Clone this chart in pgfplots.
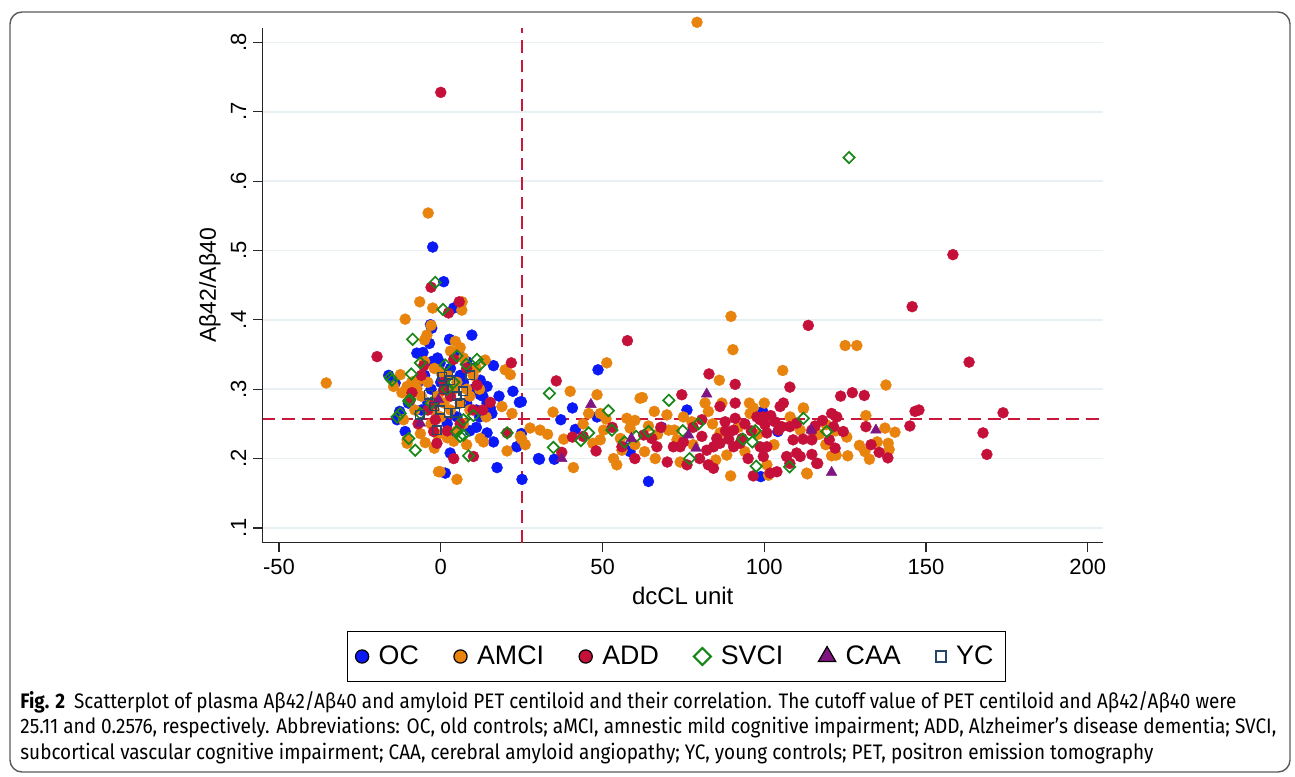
\documentclass[border=0pt]{standalone}
\usepackage{pgfplots}
\pgfplotsset{compat=1.18}
\usepackage{fontspec}
\usepackage{graphicx}
\setmainfont{Liberation Sans}
\newfontfamily\capfont{Fira Sans}
\definecolor{cOC}{RGB}{10,25,245}
\definecolor{cAMCI}{RGB}{232,131,14}
\definecolor{cADD}{RGB}{197,16,58}
\definecolor{cSVCI}{RGB}{24,135,24}
\definecolor{cCAA}{RGB}{128,20,128}
\definecolor{cYC}{RGB}{40,70,105}
\definecolor{cut}{RGB}{200,25,60}
\definecolor{gridc}{RGB}{232,240,243}
\definecolor{frame}{RGB}{90,90,90}
\begin{document}
\begin{tikzpicture}[x=0.5pt,y=0.5pt]
\useasboundingbox (0,0) rectangle (1295,776);
\draw[rounded corners=6pt, draw=frame, line width=0.7pt] (10,4) rectangle (1290,764);
\begin{axis}[
  at={(131.35pt,116.65pt)}, anchor=south west,
  scale only axis, width=420pt, height=257.35pt,
  xmin=-55.04, xmax=204.6, ymin=0.0787, ymax=0.8208,
  clip=false,
  axis x line*=bottom, axis y line*=left,
  axis line style={line width=0.6pt, black!85},
  tick align=outside, major tick length=4.7pt,
  tick style={line width=0.6pt, black!85},
  xtick={-50,0,50,100,150,200}, xticklabels={-50,0,50,100,150,200},
  ytick={0.1,0.2,0.3,0.4,0.5,0.6,0.7,0.8}, yticklabels={.1,.2,.3,.4,.5,.6,.7,.8},
  xticklabel style={font=\fontsize{11}{13}\selectfont},
  yticklabel style={rotate=90, anchor=south, font=\fontsize{11}{13}\selectfont},
  ymajorgrids, grid style={line width=0.75pt, gridc},
  xlabel={dcCL unit}, ylabel={Aβ42/Aβ40},
  xlabel style={font=\fontsize{12}{14}\selectfont, at={(axis description cs:0.5,-0.1036)}, anchor=center},
  ylabel style={font=\fontsize{11.5}{14}\selectfont, at={(axis description cs:-0.0627,0.5)}, anchor=center},
  legend style={at={(0.4926,-0.2211)}, anchor=center, draw=black, line width=0.6pt,
    font=\fontsize{13.4}{15}\selectfont, legend columns=6, inner ysep=5pt, inner xsep=4pt,
    /tikz/every odd column/.append style={column sep=3pt},
    /tikz/every even column/.append style={column sep=15.5pt}},
  legend image code/.code={\draw[#1] plot coordinates {(0pt,0pt)};},
  circ/.style={only marks, mark=*, mark size=2.75pt, line width=0.2pt},
]
% cutoff lines
\addplot[cut, line width=1pt, dash pattern=on 6.3pt off 3.5pt, forget plot] coordinates {(-55.04,0.2576) (204.6,0.2576)};
\addplot[cut, line width=1pt, dash pattern=on 6.3pt off 3.5pt, forget plot] coordinates {(25.11,0.0787) (25.11,0.8208)};
% OC
\addplot[circ, forget plot, color=cOC, mark options={solid, draw=cOC, fill=cOC}] coordinates {
(-2.5,0.505) (0.9,0.455) (4.0,0.417) (-3.2,0.393) (-2.8,0.388) (9.6,0.378) (-3.5,0.366) (2.7,0.372)
(-7.4,0.352) (-5.5,0.353) (5.5,0.352) (-2.7,0.340) (-0.2,0.338) (16.3,0.334) (-16.1,0.320) (-14.1,0.309)
(-13.5,0.256) (12.2,0.313) (14.3,0.304) (12.2,0.292) (14.3,0.280) (15.3,0.273) (15.8,0.265) (22.3,0.297)
(24.3,0.281) (-11.0,0.239) (2.9,0.208) (17.4,0.187) (25.1,0.170) (30.2,0.200) (1.4,0.179) (14.3,0.237)
(16.3,0.224) (23.5,0.217) (24.9,0.282) (24.9,0.236) (48.6,0.328) (40.7,0.273) (37.1,0.256) (41.6,0.242)
(30.5,0.199) (35.1,0.199) (64.2,0.167) (48.3,0.260) (56.5,0.217) (58.5,0.210) (68.3,0.245) (76.1,0.270)
(99.5,0.268) (98.9,0.174) (104.2,0.239) (-8,0.30) (-5,0.32) (3,0.33) (7,0.31) (10,0.30) (8,0.28) (11,0.27)
(-1,0.345) (6,0.32) (-10,0.28) (-3,0.30) (5,0.26) (9,0.24) (12,0.26) (-6,0.27) (2,0.25) (-4,0.28) (0,0.31)
(18,0.29) (-7,0.31) (10,0.33) (13,0.29) (11,0.245) (4,0.235) (-12.7,0.268) (8,0.34)
};
% AMCI
\addplot[circ, forget plot, color=cAMCI, mark options={solid, draw=cAMCI, fill=cAMCI}] coordinates {
(-35.4,0.309) (-3.9,0.554) (-6.5,0.426) (-2.5,0.417) (6.5,0.414) (-11.0,0.401) (-3,0.392) (-4.3,0.378)
(-5.0,0.371) (4.5,0.369) (13.7,0.342) (19.9,0.328) (21.5,0.321) (-12.5,0.321) (-10.4,0.304) (-8.4,0.311)
(-7.4,0.301) (18.9,0.275) (22.0,0.265) (-11.5,0.256) (-10.4,0.227) (-4.8,0.223) (-6.3,0.236) (-0.2,0.181)
(5.0,0.170) (12.2,0.229) (13.2,0.224) (20.5,0.211) (24.6,0.232) (26.1,0.220) (27.6,0.244) (-14.6,0.304)
(-10.4,0.222) (-0.7,0.181) (6.6,0.426) (-2,0.33) (2,0.32) (4,0.30) (-1,0.29) (1,0.28) (3,0.27) (6,0.28)
(8,0.30) (-4,0.31) (-6,0.29) (5,0.24) (7,0.25) (9,0.27) (10,0.32) (-8,0.27) (0,0.26) (-3,0.25) (2,0.23)
(11,0.33) (-5,0.34) (7,0.345) (3,0.355) (-9,0.31) (12,0.30) (4,0.225) (-2,0.215) (8,0.22) (-12,0.295)
(6,0.36) (-1,0.235) (14,0.26) (1,0.30) (-2,0.27) (5,0.31) (3,0.29) (-6,0.315) (0,0.325) (9,0.29) (-3,0.28)
(30.7,0.241) (34.7,0.267) (40.0,0.297) (41.0,0.187) (51.3,0.338) (48.3,0.292) (51.1,0.257) (49.3,0.265)
(45.7,0.265) (50.3,0.241) (49.3,0.227) (53.4,0.200) (54.4,0.191) (57.5,0.258) (58.5,0.244) (55.5,0.229)
(61.6,0.287) (62.3,0.288) (64.2,0.247) (66.3,0.200) (69.9,0.263) (70.4,0.241) (72.2,0.241) (73.0,0.227)
(77.6,0.253) (81.7,0.280) (82.7,0.268) (86.1,0.313) (86.9,0.280) (86.3,0.237) (88.4,0.205) (89.6,0.175)
(95.4,0.280) (96.6,0.273) (95.6,0.265) (100.8,0.191) (101.3,0.176) (105.7,0.327) (112.1,0.273) (111.1,0.241)
(113.1,0.179) (89.7,0.405) (90.3,0.357) (79.2,0.829) (125.0,0.363) (128.6,0.363) (137.6,0.306) (131.4,0.262)
(137.3,0.244) (140.4,0.238) (138.3,0.222) (138.6,0.213) (134.9,0.224) (132.5,0.199) (129.4,0.219) (131.1,0.210)
(125.8,0.204) (120.8,0.204) (122.2,0.205) (113.3,0.178) (112.1,0.272) (125.5,0.231) (119.1,0.249) (25,0.228)
(44,0.25) (60,0.22) (63,0.21) (67,0.235) (75,0.26) (78,0.22) (84,0.25) (92,0.245) (94,0.21) (98,0.235)
(103,0.22) (108,0.26) (117,0.235) (119,0.22) (122,0.24) (85,0.198) (74,0.195) (60,0.255) (66,0.268)
(56,0.212) (47,0.222) (38,0.228) (33,0.235) (100,0.28)
};
% ADD
\addplot[circ, forget plot, color=cADD, mark options={solid, draw=cADD, fill=cADD}] coordinates {
(-19.7,0.347) (0,0.728) (-3.0,0.447) (5.7,0.426) (2.4,0.410) (4.0,0.343) (-5.3,0.334) (21.8,0.338)
(0.9,0.299) (11.2,0.306) (15.3,0.281) (-9.4,0.285) (-1.7,0.256) (-2.2,0.239) (-1.2,0.222) (10.1,0.203)
(20.5,0.237) (-8.9,0.295) (3,0.29) (-4,0.27) (6,0.25) (1,0.31) (8,0.33) (-6,0.32) (2,0.24) (10,0.27)
(-2,0.28) (4,0.20) (13,0.27) (-7,0.25)
(35.7,0.312) (40.7,0.231) (37.4,0.209) (56.0,0.217) (57.7,0.370) (62.7,0.234) (65.2,0.229) (66.8,0.217)
(71.9,0.217) (74.0,0.217) (74.5,0.292) (75.0,0.224) (76.1,0.191) (80.7,0.256) (80.7,0.232) (82.2,0.212)
(82.9,0.322) (91.0,0.307) (82.7,0.191) (84.3,0.186) (86.3,0.275) (87.9,0.253) (91.0,0.280) (91.0,0.258)
(90.5,0.241) (85.3,0.229) (86.3,0.222) (84.3,0.217) (90.5,0.217) (92.5,0.222) (93.1,0.229) (97.7,0.260)
(98.7,0.256) (99.7,0.260) (100.2,0.249) (100.8,0.237) (98.7,0.217) (100.8,0.217) (99.7,0.203) (96.6,0.175)
(101.8,0.179) (103.9,0.181) (103.3,0.253) (104.4,0.241) (105.9,0.280) (107.9,0.303) (105.4,0.246) (106.9,0.203)
(107.9,0.193) (110.0,0.208) (107.9,0.246) (110,0.251) (108.9,0.227) (111.1,0.203) (114.7,0.227) (116.2,0.193)
(104.9,0.275) (113.6,0.392) (123.6,0.290) (127.2,0.295) (130.9,0.291) (145,0.247) (131.4,0.246) (133,0.220)
(135.5,0.209) (138.2,0.201) (114.7,0.206) (116.5,0.193) (121.9,0.215) (120.1,0.227) (120.8,0.265) (122.4,0.260)
(121.4,0.246) (124.4,0.239) (115.7,0.247) (114.7,0.241) (146.6,0.268) (147.8,0.270) (145.7,0.419) (158.3,0.494)
(163.3,0.339) (167.6,0.237) (168.8,0.206) (173.8,0.266) (48.0,0.211) (44,0.232) (53,0.245) (60,0.20) (68,0.245)
(70,0.195) (78,0.245) (88,0.24) (94,0.25) (96,0.24) (102,0.262) (95,0.20) (80,0.20) (89,0.228) (112,0.228) (118,0.255)
};
% SVCI
\addplot[only marks, forget plot, color=cSVCI, mark=square, mark size=2.0pt, mark options={solid, rotate=45, draw=cSVCI, line width=0.85pt, fill=none}] coordinates {
(-1.7,0.454) (0.7,0.415) (-8.7,0.372) (5.0,0.348) (11.2,0.343) (12.0,0.335) (-6.3,0.338) (1.4,0.335)
(7.9,0.336) (-15.6,0.317) (-15.1,0.313) (-9.1,0.322) (-12.5,0.265) (-9.6,0.285) (-6.3,0.265) (10.1,0.262)
(7.0,0.256) (6.0,0.232) (7.0,0.234) (5.0,0.239) (-9.9,0.229) (-7.9,0.212) (8.6,0.204) (20.5,0.237)
(-13.5,0.260) (-9.9,0.283) (2,0.30) (-3,0.28) (4,0.31)
(33.6,0.294) (43.3,0.226) (45.7,0.237) (34.8,0.216) (51.8,0.269) (52.9,0.241) (56.8,0.224) (60.4,0.232)
(64.2,0.239) (70.5,0.284) (74.8,0.240) (76.9,0.200) (79.6,0.250) (93.4,0.228) (96.3,0.224) (97.2,0.240)
(97.5,0.189) (107.8,0.188) (112.1,0.258) (119.3,0.239) (126.2,0.634)
};
% CAA
\addplot[only marks, forget plot, color=cCAA, mark=triangle*, mark size=3.1pt, mark options={solid, draw=cCAA, line width=0.2pt, fill=cCAA}] coordinates {
(46.4,0.278) (37.4,0.200) (58.9,0.229) (76.6,0.234) (78.9,0.215) (82.2,0.293) (114.5,0.241) (134.5,0.241)
(120.8,0.180) (-6.3,0.251) (-0.7,0.285)
};
% YC
\addplot[only marks, forget plot, color=cYC, mark=square, mark size=2.1pt, mark options={solid, draw=cYC, line width=0.75pt, fill=none}] coordinates {
(0.4,0.318) (2.4,0.321) (2.9,0.313) (-3.8,0.292) (0.9,0.300) (7.0,0.297) (-0.2,0.270) (2.4,0.266)
(4.5,0.266) (-1.2,0.241) (5.0,0.290) (9.1,0.320) (-6.5,0.263) (-2,0.275) (6,0.28)
};
% legend
\addlegendimage{only marks, mark=*, mark size=3.3pt, mark options={draw=none, fill=cOC}}
\addlegendentry{OC}
\addlegendimage{only marks, mark=*, mark size=3.3pt, mark options={draw=none, fill=cAMCI}}
\addlegendentry{AMCI}
\addlegendimage{only marks, mark=*, mark size=3.3pt, mark options={draw=none, fill=cADD}}
\addlegendentry{ADD}
\addlegendimage{only marks, mark=square, mark size=3.0pt, mark options={rotate=45, draw=cSVCI, line width=1pt, fill=none}}
\addlegendentry{SVCI}
\addlegendimage{only marks, mark=triangle*, mark size=5pt, mark options={draw=none, fill=cCAA}}
\addlegendentry{CAA}
\addlegendimage{only marks, mark=square, mark size=2.6pt, mark options={draw=cYC, line width=0.9pt, fill=none}}
\addlegendentry{YC}
\end{axis}
\node[anchor=base west, inner sep=0pt] at (20,68) {\resizebox{608pt}{\height}{\capfont\fontsize{10.5}{12}\selectfont\textbf{Fig. 2}\hspace{5pt}Scatterplot of plasma Aβ42/Aβ40 and amyloid PET centiloid and their correlation. The cutoff value of PET centiloid and Aβ42/Aβ40 were}};
\node[anchor=base west, inner sep=0pt] at (20,42) {\resizebox{628pt}{\height}{\capfont\fontsize{10.5}{12}\selectfont 25.11 and 0.2576, respectively. Abbreviations: OC, old controls; aMCI, amnestic mild cognitive impairment; ADD, Alzheimer’s disease dementia; SVCI,}};
\node[anchor=base west, inner sep=0pt] at (20,17) {\resizebox{566.5pt}{\height}{\capfont\fontsize{10.5}{12}\selectfont subcortical vascular cognitive impairment; CAA, cerebral amyloid angiopathy; YC, young controls; PET, positron emission tomography}};
\end{tikzpicture}
\end{document}
